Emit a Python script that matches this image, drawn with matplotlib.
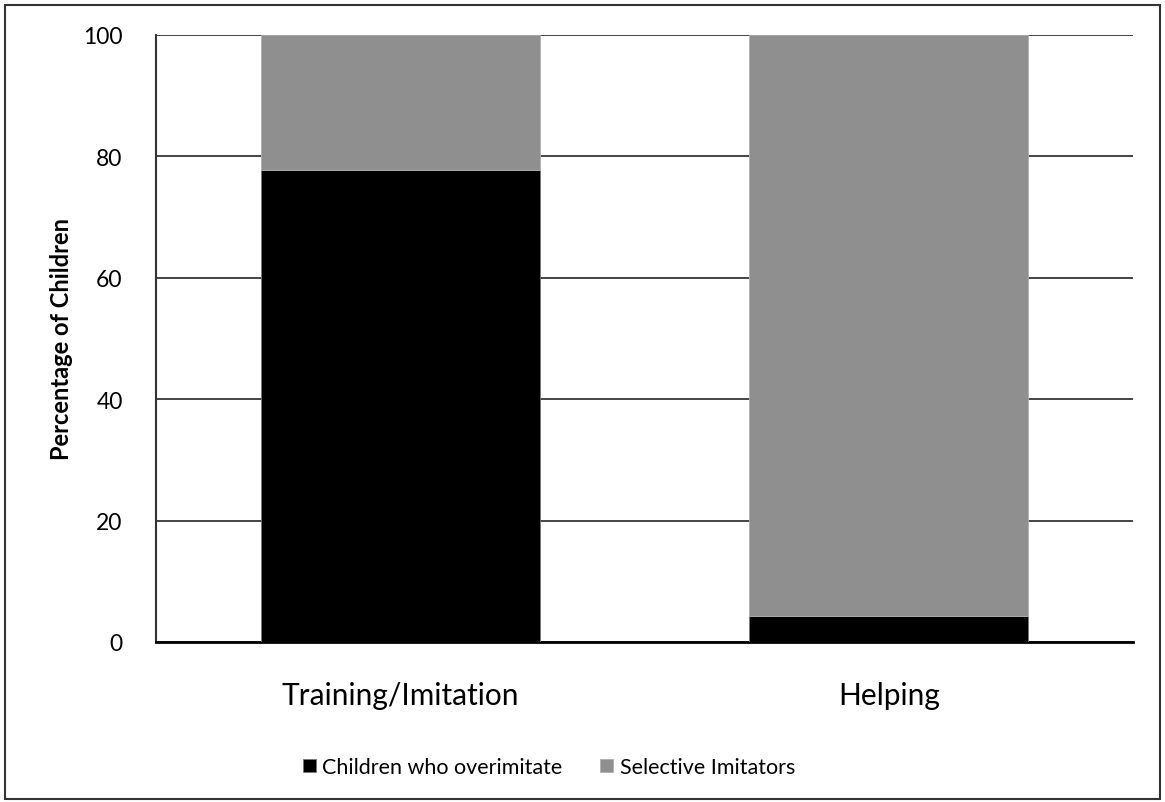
import matplotlib.pyplot as plt
from matplotlib.patches import Rectangle

plt.rcParams['font.family'] = ['Lato', 'DejaVu Sans']

# percentage of children per condition
conditions = ["Training/Imitation", "Helping"]
overimitators = [77.8, 4.3]
selective = [22.2, 95.7]

fig = plt.figure(figsize=(11.65, 8.03), dpi=100)
ax = fig.add_axes([156 / 1165, 1 - 643 / 803, 977 / 1165, 607 / 803])

x = range(len(conditions))
ax.bar(x, overimitators, width=0.571, color='black', edgecolor='#777777', linewidth=0.6,
       label='Children who overimitate', zorder=3)
ax.bar(x, selective, width=0.571, bottom=overimitators, color='#8f8f8f', edgecolor='#b0b0b0',
       linewidth=0.6, label='Selective Imitators', zorder=3)

ax.set_xlim(-0.5, 1.5)
ax.set_ylim(0, 100)
ax.set_yticks([0, 20, 40, 60, 80, 100])
ax.yaxis.grid(True, color='#444444', linewidth=1.4, zorder=0)
ax.set_axisbelow(True)
ax.tick_params(axis='y', length=0, pad=24, labelsize=16.5)
ax.tick_params(axis='x', length=0, pad=28, labelsize=21.5)
ax.set_xticks(list(x))
ax.set_xticklabels(conditions)
for side in ['top', 'right']:
    ax.spines[side].set_visible(False)
ax.spines['left'].set_color('#333333')
ax.spines['left'].set_linewidth(1.5)
ax.spines['bottom'].set_color('black')
ax.spines['bottom'].set_linewidth(2)
ax.set_ylabel('Percentage of Children', fontsize=17, fontweight='bold', labelpad=7)

fig.legend(loc='center', bbox_to_anchor=(549 / 1165, 1 - 768 / 803), ncol=2, frameon=False,
           fontsize=15.5, handlelength=0.6, handleheight=0.6, handletextpad=0.3,
           columnspacing=1.75)

# outer border around the whole chart
fig.patches.append(Rectangle((5 / 1165, 3 / 803), 1155 / 1165, 794 / 803, transform=fig.transFigure,
                             fill=False, edgecolor='#333333', linewidth=1.5))

fig.savefig('out.png', dpi=100)
